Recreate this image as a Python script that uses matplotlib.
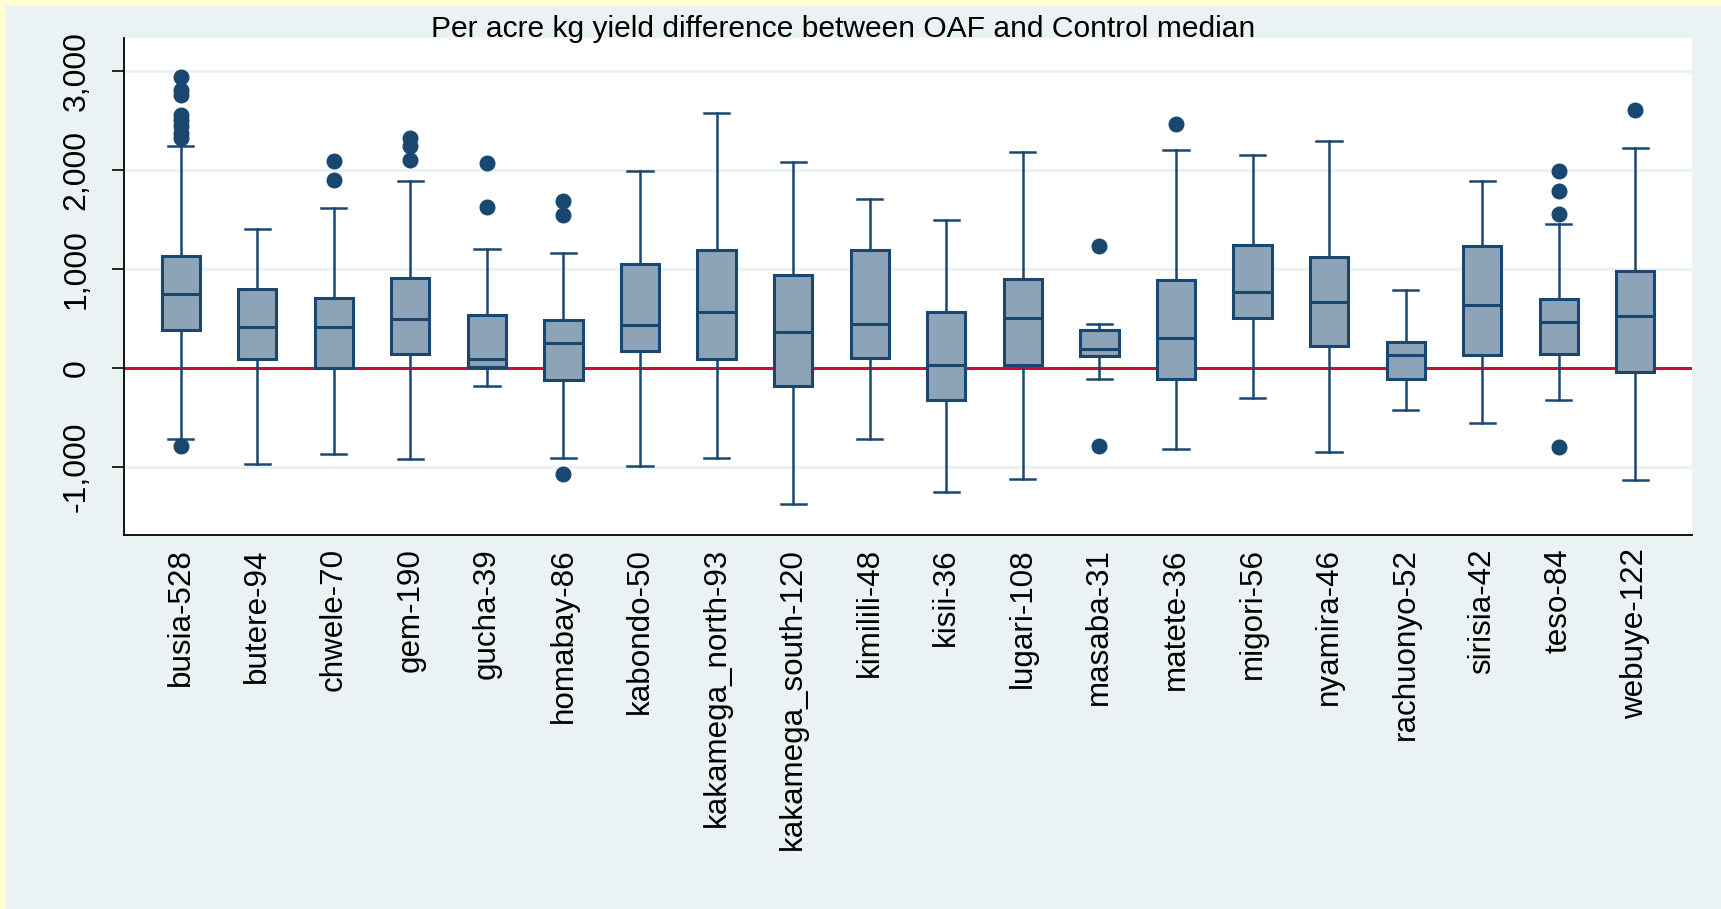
import matplotlib
matplotlib.use("Agg")
import matplotlib.pyplot as plt
from matplotlib.patches import Rectangle
from matplotlib.ticker import FuncFormatter

plt.rcParams["font.family"] = ["Liberation Sans", "DejaVu Sans"]

# district-sample size labels
tick_labels = [
    "busia-528", "butere-94", "chwele-70", "gem-190", "gucha-39",
    "homabay-86", "kabondo-50", "kakamega_north-93", "kakamega_south-120",
    "kimilili-48", "kisii-36", "lugari-108", "masaba-31", "matete-36",
    "migori-56", "nyamira-46", "rachuonyo-52", "sirisia-42", "teso-84",
    "webuye-122",
]

# box statistics (kg per acre)
q1 = [387, 97, 0, 141, 16, -118, 175, 94, -178, 98,
      -320, 30, 118, -108, 502, 226, -111, 135, 141, -40]
median = [747, 414, 420, 495, 91, 252, 434, 572, 370, 448,
          30, 505, 195, 306, 774, 670, 138, 640, 468, 525]
q3 = [1134, 798, 707, 915, 535, 488, 1054, 1189, 939, 1195,
      572, 899, 387, 892, 1242, 1121, 263, 1229, 700, 983]
whisk_lo = [-711, -970, -862, -916, -176, -903, -987, -909, -1370, -714,
            -1246, -1122, -114, -811, -306, -848, -421, -556, -323, -1128]
whisk_hi = [2238, 1404, 1616, 1892, 1208, 1162, 1993, 2579, 2084, 1704,
            1498, 2178, 451, 2199, 2152, 2296, 791, 1886, 1451, 2219]
outliers = [
    [2935, 2811, 2761, 2559, 2508, 2441, 2374, 2323, -785],
    [],
    [2094, 1902],
    [2323, 2238, 2104],
    [2074, 1622],
    [1690, 1548, -1068],
    [], [], [], [], [], [],
    [1229, -781],
    [2465],
    [], [], [], [],
    [1987, 1785, 1559, -798],
    [2606],
]

navy = "#1A476F"
box_fill = "#8DA3B7"
panel = "#EAF2F3"

stats = []
for i, lab in enumerate(tick_labels):
    stats.append(dict(label=lab, q1=q1[i], med=median[i], q3=q3[i],
                      whislo=whisk_lo[i], whishi=whisk_hi[i],
                      fliers=outliers[i]))

fig = plt.figure(figsize=(17.21, 9.09), dpi=100, facecolor="#FFFFD5")
fig.patches.append(Rectangle((6 / 1721, 0), 1, 1 - 6 / 909,
                             transform=fig.transFigure, facecolor=panel,
                             edgecolor="none", zorder=-5))

ax = fig.add_axes([124 / 1721, 1 - 535 / 909, (1692 - 124) / 1721,
                   (535 - 38) / 909])
ax.set_zorder(2)
ax.set_facecolor("white")

ax.bxp(stats, positions=range(len(stats)), widths=0.5, capwidths=0.33,
       patch_artist=True,
       boxprops=dict(facecolor=box_fill, edgecolor=navy, linewidth=2.2),
       medianprops=dict(color=navy, linewidth=2.2),
       whiskerprops=dict(color=navy, linewidth=1.8),
       capprops=dict(color=navy, linewidth=1.8),
       flierprops=dict(marker="o", markerfacecolor=navy,
                       markeredgecolor=navy, markersize=10.5))

ax.axhline(0, color="#C8103A", linewidth=2.2, zorder=1.5)

ax.set_xlim(-0.74, len(stats) - 1 + 0.74)
ax.set_ylim(-1684, 3333)
ax.set_yticks([-1000, 0, 1000, 2000, 3000])
ax.yaxis.set_major_formatter(FuncFormatter(lambda v, p: f"{v:,.0f}"))
ax.yaxis.grid(True, color=panel, linewidth=2.2)
ax.set_axisbelow(True)

ax.set_xticks(range(len(stats)))
ax.set_xticklabels(tick_labels, rotation=90, fontsize=22.6)
ax.tick_params(axis="x", length=0, pad=9.5)
ax.tick_params(axis="y", length=8.4, width=1.2, pad=15, labelsize=23)
for t in ax.get_yticklabels():
    t.set_rotation(90)
    t.set_va("center")

for side in ["top", "right"]:
    ax.spines[side].set_visible(False)
for side in ["left", "bottom"]:
    ax.spines[side].set_linewidth(1.3)
    ax.spines[side].set_color("black")

fig.text(843 / 1721, 1 - 37 / 909,
         "Per acre kg yield difference between OAF and Control median",
         ha="center", va="baseline", fontsize=21.6, zorder=5)

fig.savefig("out.png", dpi=100, facecolor=fig.get_facecolor())
